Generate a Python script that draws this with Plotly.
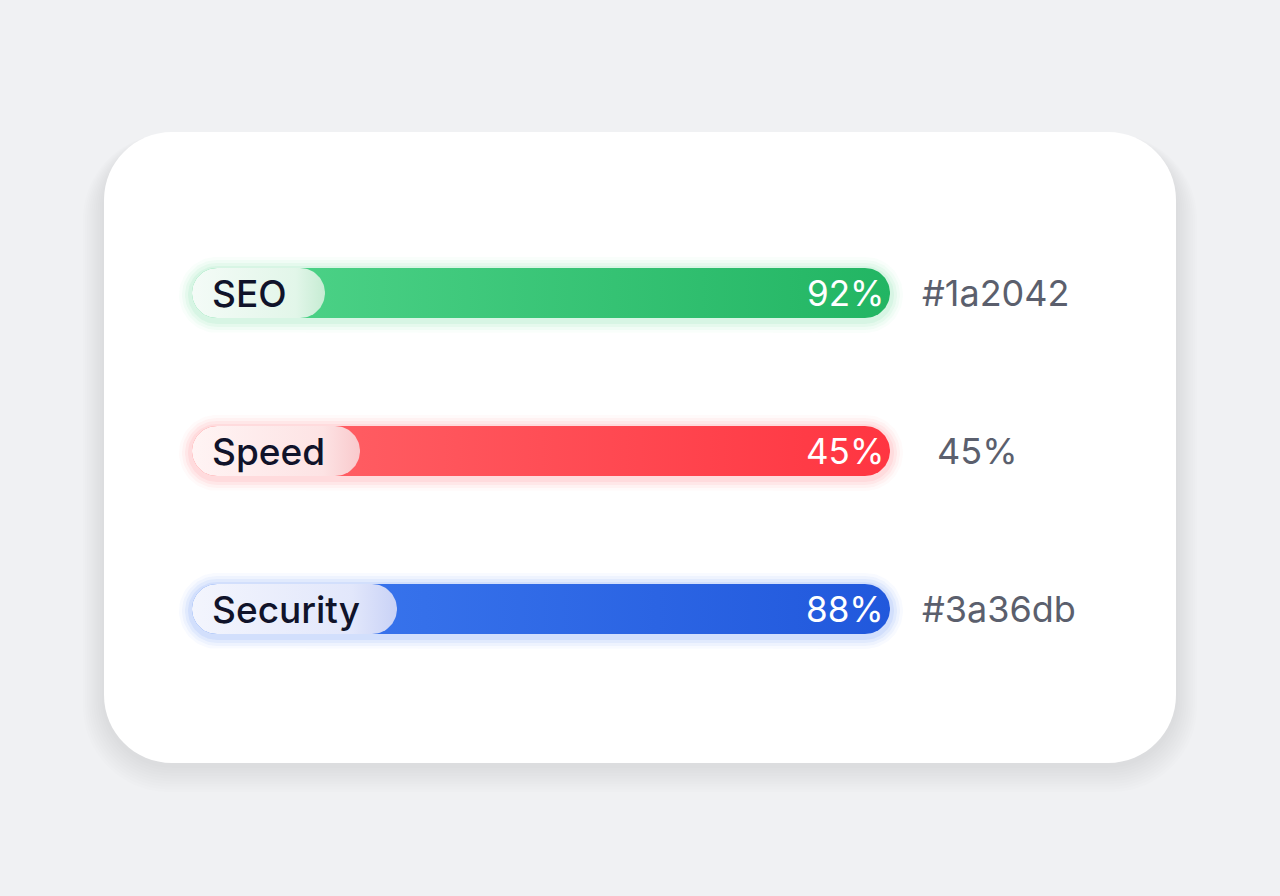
import numpy as np
import plotly.graph_objects as go

# ---------------- data ----------------
categories = ["SEO", "Speed", "Security"]
fill_percent = [100, 100, 100]          # every coloured track is drawn full length
value_labels = ["92%", "45%", "88%"]
side_labels = ["#1a2042", "45%", "#3a36db"]

# ---------------- styles ----------------
W, H = 1280, 896
X0_PX, PX_PER_UNIT = 192, 6.98           # x=0 at 192px, 100 units = 698px
ROW0_PX, ROW_STEP = 293, 158             # row centres in px
BAR_HALF = 25
pill_width_px = [133, 168, 205]
side_shift_px = [0, 15, 0]
bar_colors = [("#52d68c", "#22b563"), ("#ff676b", "#ff3541"), ("#3f7cf1", "#2158dc")]
pill_colors = [("#f4fbf7", "#e2f6e9", "#c6ecd3"),
               ("#fff4f4", "#fde3e4", "#f9c9cc"),
               ("#f3f5fd", "#e2e7fb", "#c9d2f6")]
glow_colors = ["82,214,140", "255,103,107", "63,124,241"]

LABEL_FONT = "Inter, Roboto, 'Noto Sans', sans-serif"


def capsule(x_left, x_right, yc, r_px, e_px):
    r = r_px + e_px
    rx = r / PX_PER_UNIT
    ry = r / ROW_STEP
    cl = x_left + r_px / PX_PER_UNIT
    cr = x_right - r_px / PX_PER_UNIT
    t1 = np.linspace(-np.pi / 2, np.pi / 2, 40)
    t2 = np.linspace(np.pi / 2, 3 * np.pi / 2, 40)
    xs = np.concatenate([cr + rx * np.cos(t1), cl + rx * np.cos(t2)])
    ys = np.concatenate([yc + ry * np.sin(t1), yc + ry * np.sin(t2)])
    xs = np.append(xs, xs[0])
    ys = np.append(ys, ys[0])
    return xs, ys


fig = go.Figure()

for i, cat in enumerate(categories):
    yc = i
    x_end = fill_percent[i]
    # soft glow around the track
    for e, a in [(13, 0.035), (10, 0.05), (7, 0.07), (4, 0.09)]:
        xs, ys = capsule(0, x_end, yc + 0.012, BAR_HALF, e)
        fig.add_trace(go.Scatter(x=xs, y=ys, mode="lines", fill="toself",
                                 fillcolor=f"rgba({glow_colors[i]},{a})",
                                 line=dict(width=0, color="rgba(0,0,0,0)"),
                                 hoverinfo="skip", showlegend=False))
    # coloured bar
    xs, ys = capsule(0, x_end, yc, BAR_HALF, 0)
    c0, c1 = bar_colors[i]
    fig.add_trace(go.Scatter(x=xs, y=ys, mode="lines", fill="toself",
                             fillgradient=dict(type="horizontal",
                                               colorscale=[[0, c0], [1, c1]]),
                             line=dict(width=0, color="rgba(0,0,0,0)"),
                             hoverinfo="skip", showlegend=False, name=cat))
    # label pill
    pw = pill_width_px[i] / PX_PER_UNIT
    xs, ys = capsule(0, pw, yc, BAR_HALF, 0)
    p0, p1, p2 = pill_colors[i]
    fig.add_trace(go.Scatter(x=xs, y=ys, mode="lines", fill="toself",
                             fillgradient=dict(type="horizontal",
                                               colorscale=[[0, p0], [0.78, p1], [1, p2]]),
                             line=dict(width=0, color="rgba(0,0,0,0)"),
                             hoverinfo="skip", showlegend=False))
    # texts
    fig.add_annotation(x=0, y=yc, text=cat, showarrow=False, xanchor="left",
                       xshift=18, yanchor="middle",
                       font=dict(family=LABEL_FONT, size=37, color="#10132a", weight=500))
    fig.add_annotation(x=x_end, y=yc, text=value_labels[i], showarrow=False,
                       xanchor="right", xshift=-4, yanchor="middle",
                       font=dict(family=LABEL_FONT, size=35, color="#ffffff"))
    fig.add_annotation(x=x_end, y=yc, text=side_labels[i], showarrow=False,
                       xanchor="left", xshift=30 + side_shift_px[i], yanchor="middle",
                       font=dict(family=LABEL_FONT, size=36, color="#5b5f6d"))


# ---------------- card + shadow ----------------
def rrect_path(x0, y0, x1, y1, r):
    k = 0.5523 * r
    def P(px, py):
        return f"{px / W:.5f},{1 - py / H:.5f}"
    return (f"M {P(x0 + r, y0)} L {P(x1 - r, y0)} "
            f"C {P(x1 - r + k, y0)} {P(x1, y0 + r - k)} {P(x1, y0 + r)} "
            f"L {P(x1, y1 - r)} "
            f"C {P(x1, y1 - r + k)} {P(x1 - r + k, y1)} {P(x1 - r, y1)} "
            f"L {P(x0 + r, y1)} "
            f"C {P(x0 + r - k, y1)} {P(x0, y1 - r + k)} {P(x0, y1 - r)} "
            f"L {P(x0, y0 + r)} "
            f"C {P(x0, y0 + r - k)} {P(x0 + r - k, y0)} {P(x0 + r, y0)} Z")


CX0, CY0, CX1, CY1, CR = 104, 132, 1176, 763, 68
shapes = []
for k in range(10, 0, -1):
    e = k * 3
    shapes.append(dict(type="path", xref="paper", yref="paper", layer="below",
                       path=rrect_path(CX0 - e * 0.7, CY0 - e * 0.2 + 8, CX1 + e * 0.7,
                                       CY1 + e * 0.9 + 2, CR + e * 0.6),
                       fillcolor="rgba(100,100,104,0.016)", line=dict(width=0)))
shapes.append(dict(type="path", xref="paper", yref="paper", layer="below",
                   path=rrect_path(CX0, CY0, CX1, CY1, CR),
                   fillcolor="#ffffff", line=dict(width=0)))

fig.update_layout(
    width=W, height=H,
    margin=dict(l=0, r=0, t=0, b=0),
    paper_bgcolor="#f0f1f3",
    plot_bgcolor="rgba(0,0,0,0)",
    shapes=shapes,
    xaxis=dict(range=[-X0_PX / PX_PER_UNIT, (W - X0_PX) / PX_PER_UNIT],
               visible=False, fixedrange=True),
    yaxis=dict(range=[(H - ROW0_PX) / ROW_STEP, -ROW0_PX / ROW_STEP],
               visible=False, fixedrange=True),
    showlegend=False,
)

fig.write_html("out.html",
               config={"displayModeBar": False, "staticPlot": True},
               post_script="document.body.style.margin='0';document.body.style.overflow='hidden';")
